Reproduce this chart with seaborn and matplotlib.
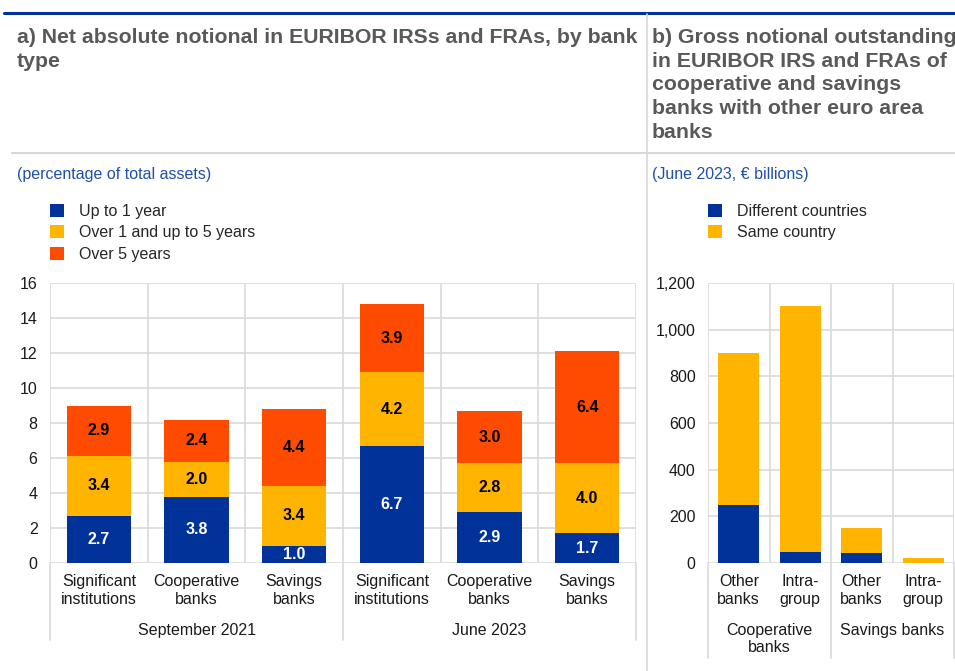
import matplotlib
matplotlib.use("Agg")
import matplotlib.pyplot as plt
import matplotlib.transforms as mtransforms
from matplotlib.lines import Line2D
from matplotlib.patches import Patch
import seaborn as sns
import pandas as pd
import numpy as np

# ---------------- data ----------------
# Panel a
a_categories = ["Significant\ninstitutions", "Cooperative\nbanks", "Savings\nbanks"] * 2
a_groups = ["September 2021", "June 2023"]
a_series_names = ["Up to 1 year", "Over 1 and up to 5 years", "Over 5 years"]
a_up_to_1 = [2.7, 3.8, 1.0, 6.7, 2.9, 1.7]
a_1_to_5 = [3.4, 2.0, 3.4, 4.2, 2.8, 4.0]
a_over_5 = [2.9, 2.4, 4.4, 3.9, 3.0, 6.4]
a_yticks = [0, 2, 4, 6, 8, 10, 12, 14, 16]

# Panel b
b_categories = ["Other\nbanks", "Intra-\ngroup", "Other\nbanks", "Intra-\ngroup"]
b_groups = ["Cooperative\nbanks", "Savings banks"]
b_series_names = ["Different countries", "Same country"]
b_different = [250, 48, 45, 1]
b_same = [650, 1053, 105, 20]
b_yticks = [0, 200, 400, 600, 800, 1000, 1200]

# ---------------- style ----------------
sns.set_theme(style="white")
plt.rcParams["font.family"] = ["Liberation Sans", "DejaVu Sans"]

BLUE = "#003299"
YELLOW = "#FFB400"
ORANGE = "#FF4B00"
GRID = "#d9d9d9"
TITLE = "#595959"
SUBBLUE = "#2050a8"
FS = 11.5

W, H = 955, 671
fig = plt.figure(figsize=(W / 100, H / 100), dpi=100)


def rect(x0, y0, x1, y1):
    return [x0 / W, 1 - y1 / H, (x1 - x0) / W, (y1 - y0) / H]


def fx(px):
    return px / W


def fy(py):
    return 1 - py / H


# decorative frame lines
fig.add_artist(Line2D([fx(4), fx(955)], [fy(13), fy(13)], color=BLUE, lw=2.2))
fig.add_artist(Line2D([fx(647), fx(647)], [fy(14), fy(671)], color=GRID, lw=1.2))
fig.add_artist(Line2D([fx(12), fx(955)], [fy(153), fy(153)], color=GRID, lw=1.5))

# titles
fig.text(fx(17), fy(28), "a) Net absolute notional in EURIBOR IRSs and FRAs, by bank\ntype",
         ha="left", va="top", fontsize=15.3, fontweight="bold", color=TITLE, linespacing=1.31)
fig.text(fx(652), fy(28),
         "b) Gross notional outstanding\nin EURIBOR IRS and FRAs of\ncooperative and savings\nbanks with other euro area\nbanks",
         ha="left", va="top", fontsize=15.3, fontweight="bold", color=TITLE, linespacing=1.31)
fig.text(fx(17), fy(175), "(percentage of total assets)", ha="left", va="center",
         fontsize=FS, color=SUBBLUE)
fig.text(fx(652), fy(175), "(June 2023, \u20ac billions)", ha="left", va="center",
         fontsize=FS, color=SUBBLUE)


def style_axes(ax, n, yticks, ylim, fmt):
    ax.set_xlim(-0.5, n - 0.5)
    ax.set_ylim(*ylim)
    ax.set_yticks(yticks)
    ax.set_yticklabels([fmt(v) for v in yticks])
    ax.set_axisbelow(True)
    ax.yaxis.grid(True, color=GRID, lw=1.2)
    ax.xaxis.grid(False)
    for b in np.arange(-0.5, n, 1.0):
        ax.axvline(b, color=GRID, lw=1.2, zorder=0)
    for s in ax.spines.values():
        s.set_visible(False)
    ax.tick_params(axis="both", length=0, labelsize=FS, colors="#1a1a1a")
    ax.tick_params(axis="y", pad=9)
    ax.tick_params(axis="x", pad=8)
    ax.set_xlabel("")
    ax.set_ylabel("")


def stacked(ax, keys, layers, colors, width):
    bottom = np.zeros(len(keys))
    for vals, col in zip(layers, colors):
        vals = np.asarray(vals, dtype=float)
        sns.barplot(x=keys, y=vals, order=keys, color=col, saturation=1, width=width,
                    errorbar=None, bottom=bottom, linewidth=0, ax=ax)
        bottom = bottom + vals


# ---------------- panel a ----------------
axa = fig.add_axes(rect(50, 283, 636, 563))
keys_a = [f"{i}" for i in range(len(a_categories))]
stacked(axa, keys_a, [a_up_to_1, a_1_to_5, a_over_5], [BLUE, YELLOW, ORANGE], 0.66)
style_axes(axa, len(keys_a), a_yticks, (0, 16), lambda v: f"{v:g}")
axa.set_xticks(range(len(keys_a)))
axa.set_xticklabels(a_categories, linespacing=1.2)

bottom = np.zeros(len(keys_a))
for vals, tcol in zip([a_up_to_1, a_1_to_5, a_over_5], ["white", "black", "black"]):
    for i, v in enumerate(vals):
        axa.text(i, bottom[i] + v / 2, f"{v:.1f}", ha="center", va="center",
                 fontsize=FS, fontweight="bold", color=tcol)
    bottom = bottom + np.asarray(vals)

tra = mtransforms.blended_transform_factory(axa.transData, axa.transAxes)
for gi, g in enumerate(a_groups):
    axa.text(gi * 3 + 1, -0.257, g, transform=tra, ha="center", va="baseline",
             fontsize=FS, color="#1a1a1a")
for xb in [-0.5, 2.5, 5.5]:
    axa.plot([xb, xb], [0, -0.275], transform=tra, color=GRID, lw=1.2, clip_on=False)

handles_a = [Patch(facecolor=c, edgecolor="none") for c in [BLUE, YELLOW, ORANGE]]
fig.legend(handles_a, a_series_names, loc="upper left",
           bbox_to_anchor=(fx(50), fy(204)), frameon=False, fontsize=FS,
           handlelength=0.85, handleheight=0.85, handletextpad=0.95, labelspacing=0.4,
           borderaxespad=0, borderpad=0)

# ---------------- panel b ----------------
axb = fig.add_axes(rect(708, 283, 954, 563))
keys_b = [f"{i}" for i in range(len(b_categories))]
stacked(axb, keys_b, [b_different, b_same], [BLUE, YELLOW], 0.66)
style_axes(axb, len(keys_b), b_yticks, (0, 1200), lambda v: f"{v:,.0f}")
axb.set_xticks(range(len(keys_b)))
axb.set_xticklabels(b_categories, linespacing=1.2)

trb = mtransforms.blended_transform_factory(axb.transData, axb.transAxes)
for gi, g in enumerate(b_groups):
    lines = g.split("\n")
    for li, line in enumerate(lines):
        axb.text(gi * 2 + 0.5, -0.257 - li * 0.061, line, transform=trb, ha="center",
                 va="baseline", fontsize=FS, color="#1a1a1a")
for xb in [-0.5, 1.5, 3.5]:
    axb.plot([xb, xb], [0, -0.34], transform=trb, color=GRID, lw=1.2, clip_on=False)

handles_b = [Patch(facecolor=c, edgecolor="none") for c in [BLUE, YELLOW]]
fig.legend(handles_b, b_series_names, loc="upper left",
           bbox_to_anchor=(fx(708), fy(204)), frameon=False, fontsize=FS,
           handlelength=0.85, handleheight=0.85, handletextpad=0.95, labelspacing=0.4,
           borderaxespad=0, borderpad=0)

fig.savefig("out.png", dpi=100)
